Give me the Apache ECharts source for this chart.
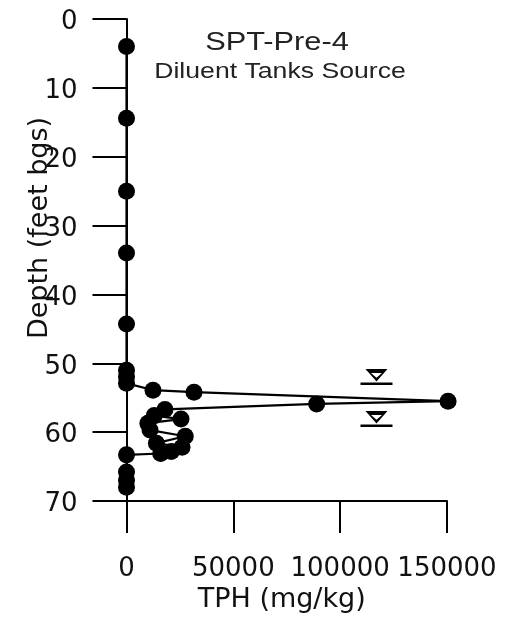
<!DOCTYPE html>
<html>
<head>
<meta charset="utf-8">
<script src="https://cdn.jsdelivr.net/npm/echarts@6/dist/echarts.min.js"></script>
<style>
html,body{margin:0;padding:0;background:#fff;}
#chart{width:508px;height:618px;}
</style>
</head>
<body>
<div id="chart"></div>
<script>
// Depth (feet bgs) and TPH (mg/kg) samples, in depth order
const depths = [4, 14.4, 25, 34, 44.3, 51, 52, 52.9, 53.9, 54.2, 55.5, 55.9, 56.7, 57.6, 58.1, 58.7, 59.7, 60.6, 61.6, 62.2, 62.8, 63.1, 63.3, 65.8, 67, 68];
const tph    = [0, 0, 0, 0, 0, 0, 0, 0, 12400, 31600, 150500, 89000, 18000, 13000, 25500, 10000, 11000, 27500, 14000, 26000, 21000, 16000, 0, 0, 0, 0];
// Water level symbols
const waterDepths = [53.0, 59.1];
const waterTph = [117000, 117000];
// Axis ticks
const xTicks = [0, 50000, 100000, 150000];
const yTicks = [0, 10, 20, 30, 40, 50, 60, 70];
const titleText = 'SPT-Pre-4';
const subtitleText = 'Diluent Tanks Source';

const samples = depths.map((d, i) => [tph[i], d]);
const water = waterDepths.map((d, i) => [waterTph[i], d]);

const waterSymbol = 'path://M5 0 L27 0 L16 12.5 Z M10.5 4 L16 8.8 L21.5 4 Z M0 13.5 L32 13.5 L32 16 L0 16 Z';

const chart = echarts.init(document.getElementById('chart'), null, {renderer: 'canvas'});
const axisFont = 'DejaVu Sans';
chart.setOption({
  animation: false,
  backgroundColor: '#ffffff',
  grid: {left: 126.5, right: 61, top: 19, bottom: 116},
  xAxis: {
    type: 'value',
    position: 'bottom',
    min: xTicks[0],
    max: xTicks[xTicks.length - 1],
    interval: xTicks[1] - xTicks[0],
    axisLine: {show: true, onZero: false, lineStyle: {color: '#000', width: 2}},
    axisTick: {show: true, length: 32, inside: false, lineStyle: {color: '#000', width: 2}},
    axisLabel: {margin: 55, fontSize: 26, fontFamily: axisFont, color: '#111',
                showMinLabel: true, showMaxLabel: true, hideOverlap: false,
                formatter: v => String(v)},
    splitLine: {show: false},
    name: 'TPH (mg/kg)',
    nameLocation: 'middle',
    nameGap: 85,
    nameMoveOverlap: false,
    nameTextStyle: {fontSize: 27, fontFamily: axisFont, color: '#111', padding: [0, 10, 0, 0]}
  },
  yAxis: {
    type: 'value',
    inverse: true,
    min: yTicks[0],
    max: yTicks[yTicks.length - 1],
    interval: yTicks[1] - yTicks[0],
    axisLine: {show: true, onZero: false, lineStyle: {color: '#000', width: 2}},
    axisTick: {show: true, length: 34, inside: false, lineStyle: {color: '#000', width: 2}},
    axisLabel: {margin: 49,
                formatter: v => '{a|' + v + '}',
                rich: {a: {fontSize: 26, fontFamily: axisFont, color: '#111', padding: [7, 0, 0, 0]}}},
    splitLine: {show: false},
    name: 'Depth (feet bgs)',
    nameLocation: 'middle',
    nameGap: 73,
    nameMoveOverlap: false,
    nameTextStyle: {fontSize: 27, fontFamily: axisFont, color: '#111', padding: [0, 0, 0, 64]}
  },
  graphic: [
    {type: 'text', x: 277, y: 43, scaleX: 1.23, z: 10,
     style: {text: titleText, fontSize: 25, fontFamily: 'Liberation Sans', fill: '#222',
             textAlign: 'center', textVerticalAlign: 'middle', align: 'center', verticalAlign: 'middle'}},
    {type: 'text', x: 280, y: 72, scaleX: 1.21, z: 10,
     style: {text: subtitleText, fontSize: 22, fontFamily: 'Liberation Sans', fill: '#222',
             textAlign: 'center', textVerticalAlign: 'middle', align: 'center', verticalAlign: 'middle'}}
  ],
  series: [
    {
      type: 'line',
      data: samples,
      clip: false,
      symbol: 'circle',
      symbolSize: 17,
      lineStyle: {color: '#000', width: 2.2},
      itemStyle: {color: '#000'}
    },
    {
      type: 'scatter',
      data: water,
      clip: false,
      symbol: waterSymbol,
      symbolSize: [32, 16],
      symbolOffset: [0, -7],
      itemStyle: {color: '#000', opacity: 1}
    }
  ]
});
</script>
</body>
</html>
